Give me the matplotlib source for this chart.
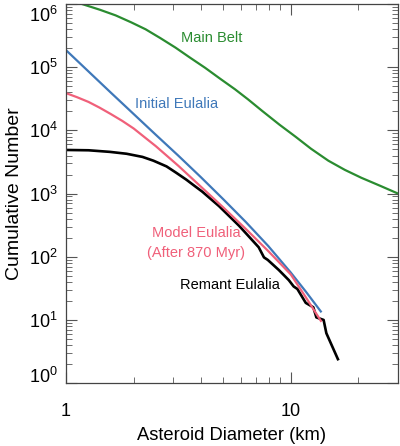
import matplotlib
matplotlib.use("Agg")
import numpy as np
import matplotlib.pyplot as plt
import matplotlib.transforms as mtransforms
from matplotlib.ticker import LogLocator, FixedLocator, FixedFormatter, NullFormatter

plt.rcParams['font.family'] = ['Liberation Sans', 'DejaVu Sans']
plt.rcParams['mathtext.default'] = 'regular'

# curves (diameter in km, log10 of cumulative number)
belt_d = [1.0, 1.178, 1.413, 1.663, 1.95, 2.26, 2.63, 3.07, 3.55, 4.16, 4.84, 5.65,
          6.46, 7.45, 8.91, 10.5, 12.3, 14.7, 17.4, 20.6, 25.1, 30.0]
belt_logn = [6.085, 6.0, 5.91, 5.82, 5.71, 5.60, 5.46, 5.31, 5.155, 4.99, 4.82, 4.65,
             4.49, 4.31, 4.09, 3.90, 3.71, 3.52, 3.375, 3.25, 3.12, 3.0]

init_d = [1.0, 1.58, 2.51, 3.16, 3.98, 5.01, 6.31, 7.94, 10.0, 11.66, 13.7]
init_logn = [5.27, 4.60, 3.93, 3.60, 3.26, 2.91, 2.55, 2.17, 1.75, 1.45, 1.12]

model_d = [1.0, 1.12, 1.26, 1.41, 1.58, 1.78, 2.0, 2.24, 2.51, 3.16, 3.98, 5.01,
           6.31, 7.94, 10.0, 11.66, 13.7]
model_logn = [4.59, 4.525, 4.45, 4.36, 4.26, 4.15, 4.03, 3.89, 3.75, 3.44, 3.11, 2.78,
              2.44, 2.09, 1.72, 1.36, 0.97]

remnant_d = [1.0, 1.26, 1.566, 1.86, 2.19, 2.45, 2.8, 3.09, 3.43, 3.72, 4.04, 4.8, 5.89,
             7.2, 7.6, 7.9, 8.85, 9.8, 10.3, 10.7, 11.66, 12.6, 13.0, 14.0, 14.4, 16.3]
remnant_logn = [3.69, 3.685, 3.66, 3.63, 3.58, 3.52, 3.43, 3.33, 3.22, 3.125, 3.03, 2.80, 2.49,
                2.15, 1.99, 1.95, 1.79, 1.63, 1.53, 1.49, 1.27, 1.20, 1.04, 1.0, 0.79, 0.36]

fig = plt.figure(figsize=(4.0, 4.46), dpi=100)
ax = fig.add_axes([0.165, 0.141, 0.83, 0.85])

kw = dict(solid_joinstyle='round', solid_capstyle='butt')
ax.plot(belt_d, 10 ** np.array(belt_logn), color='#2a8c30', lw=1.6, **kw)
ax.plot(init_d, 10 ** np.array(init_logn), color='#3f78b9', lw=1.6, **kw)
ax.plot(remnant_d, 10 ** np.array(remnant_logn), color='black', lw=1.9, **kw)
ax.plot(model_d, 10 ** np.array(model_logn), color='#f0607a', lw=1.6, **kw)

ax.set_xscale('log')
ax.set_yscale('log')
ax.set_xlim(1, 30)
ax.set_ylim(1, 1e6)

ax.xaxis.set_major_locator(FixedLocator([1, 10]))
ax.xaxis.set_major_formatter(FixedFormatter(['1', '10']))
ax.xaxis.set_minor_locator(LogLocator(base=10, subs=np.arange(2, 10)))
ax.xaxis.set_minor_formatter(NullFormatter())
ax.yaxis.set_major_locator(FixedLocator([1e0, 1e1, 1e2, 1e3, 1e4, 1e5, 1e6]))
ax.yaxis.set_major_formatter(FixedFormatter(['$10^{%d}$' % k for k in range(7)]))
ax.yaxis.set_minor_locator(LogLocator(base=10, subs=np.arange(2, 10), numticks=10))
ax.yaxis.set_minor_formatter(NullFormatter())

ax.tick_params(which='both', direction='in', top=True, right=True, color='#555555')
ax.tick_params(which='major', length=8, width=0.8, labelsize=13)
ax.tick_params(which='minor', length=4, width=0.6)
ax.tick_params(axis='x', which='major', pad=14, labelsize=13)
ax.tick_params(axis='y', which='major', pad=6)
for s in ax.spines.values():
    s.set_color('#444444')
    s.set_linewidth(0.9)

ax.set_xlabel('Asteroid Diameter (km)', fontsize=13.2, labelpad=5)
ax.set_ylabel('Cumulative Number', fontsize=14, labelpad=4)

# end labels on the y axis sit inside the frame, as in the original
yticks = ax.yaxis.get_major_ticks()
yticks[0].label1.set_transform(yticks[0].label1.get_transform() +
                               mtransforms.ScaledTranslation(0, 8 / 100, fig.dpi_scale_trans))
yticks[-1].label1.set_transform(yticks[-1].label1.get_transform() +
                                mtransforms.ScaledTranslation(0, -10 / 100, fig.dpi_scale_trans))

ax.text(4.43, 10 ** 5.47, 'Main Belt', color='#2a8c30', fontsize=10.5, ha='center', va='center')
ax.text(3.10, 10 ** 4.41, 'Initial Eulalia', color='#3f78b9', fontsize=10.5, ha='center', va='center')
ax.text(3.80, 10 ** 2.37, 'Model Eulalia', color='#f0607a', fontsize=10.5, ha='center', va='center')
ax.text(3.80, 10 ** 2.06, '(After 870 Myr)', color='#f0607a', fontsize=10.5, ha='center', va='center')
ax.text(5.37, 10 ** 1.55, 'Remant Eulalia', color='black', fontsize=10.5, ha='center', va='center')

fig.savefig('out.png', dpi=100)
